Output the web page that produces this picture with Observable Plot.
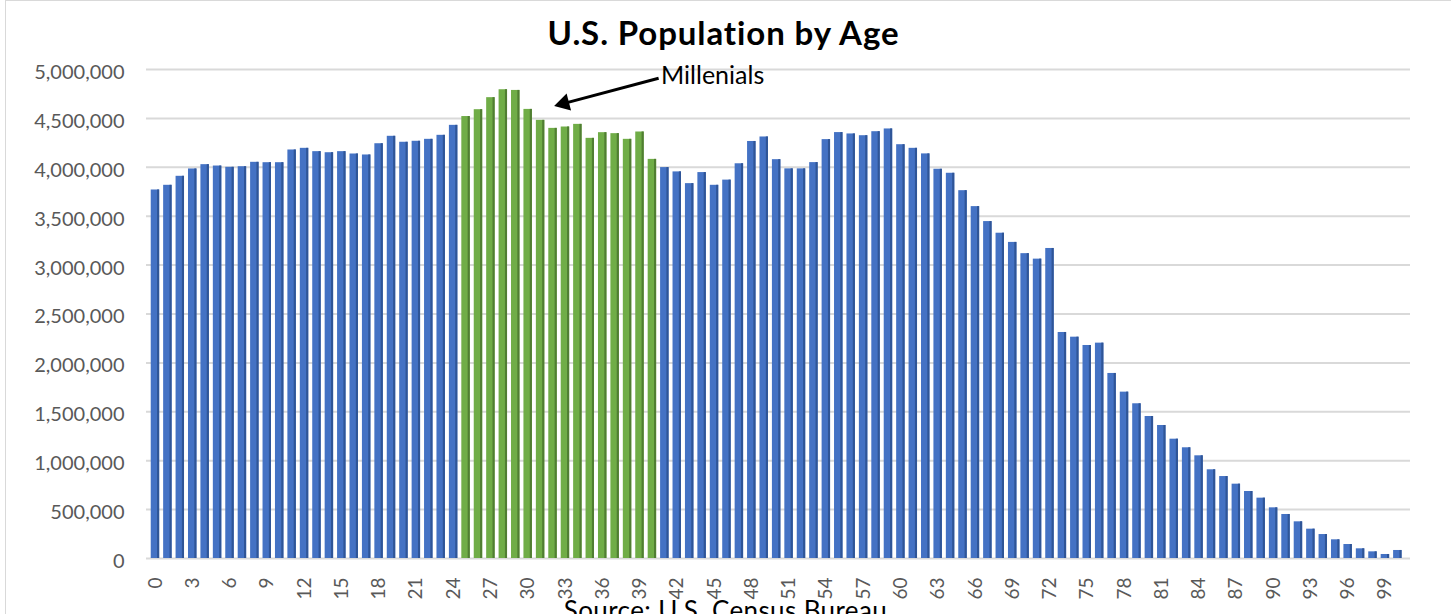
<!DOCTYPE html>
<html>
<head>
<meta charset="utf-8">
<script src="https://cdn.jsdelivr.net/npm/d3@7"></script>
<script src="https://cdn.jsdelivr.net/npm/@observablehq/plot@0.6"></script>
<style>
  html, body { margin: 0; padding: 0; background: #fff; }
  #wrap { position: relative; width: 1451px; height: 614px; overflow: hidden; background: #fff; font-family: Lato, "Open Sans", sans-serif; }
  #frame { position: absolute; left: 5px; top: 0px; width: 1460px; height: 640px; border: 1px solid #d9d9d9; box-sizing: border-box; }
  #title { position: absolute; left: 0; width: 1451px; top: 16px; line-height: 33px; text-align: center; font-weight: 700; font-size: 33px; letter-spacing: 0.9px; color: #000; padding-right: 4px; box-sizing: border-box; }
  #caption { position: absolute; left: 0; width: 1451px; top: 597px; line-height: 26px; text-align: center; font-size: 26px; letter-spacing: 0.4px; color: #000; }
  #chart { position: absolute; left: 0; top: 0; }
</style>
</head>
<body>
<div id="wrap">
  <div id="frame"></div>
  <div id="chart"></div>
  <div id="title">U.S. Population by Age</div>
  <div id="caption">Source: U.S. Census Bureau</div>
</div>
<script>
const ages = [0,1,2,3,4,5,6,7,8,9,10,11,12,13,14,15,16,17,18,19,20,21,22,23,24,25,26,27,28,29,30,31,32,33,34,35,36,37,38,39,40,41,42,43,44,45,46,47,48,49,50,51,52,53,54,55,56,57,58,59,60,61,62,63,64,65,66,67,68,69,70,71,72,73,74,75,76,77,78,79,80,81,82,83,84,85,86,87,88,89,90,91,92,93,94,95,96,97,98,99,100];
const population = [
  3768000,3816000,3908000,3983000,4027000,4013000,4000000,4006000,4051000,4047000,
  4047000,4177000,4194000,4160000,4149000,4160000,4136000,4126000,4241000,4317000,
  4256000,4266000,4286000,4327000,4429000,4519000,4589000,4712000,4793000,4786000,
  4592000,4480000,4398000,4412000,4439000,4296000,4354000,4344000,4286000,4361000,
  4081000,3997000,3953000,3833000,3946000,3816000,3869000,4036000,4264000,4310000,
  4078000,3984000,3984000,4048000,4283000,4355000,4341000,4323000,4364000,4392000,
  4231000,4194000,4137000,3980000,3939000,3761000,3598000,3445000,3326000,3232000,
  3117000,3061000,3170000,2311000,2263000,2178000,2202000,1892000,1701000,1582000,
  1452000,1360000,1220000,1132000,1050000,907000,838000,760000,685000,617000,
  518000,450000,375000,300000,245000,191000,143000,99000,68000,41000,
  82000
];
const millennialFirstAge = 25;
const millennialLastAge = 40;
const xTickLabels = [0,3,6,9,12,15,18,21,24,27,30,33,36,39,42,45,48,51,54,57,60,63,66,69,72,75,78,81,84,87,90,93,96,99];
const yTickValues = [0,500000,1000000,1500000,2000000,2500000,3000000,3500000,4000000,4500000,5000000];
const annotationText = ["Millenials"];
const annotationTextAt = [{age: 40.7, value: 4930000}];
const annotationLine = [{fromAge: 40.5, fromValue: 4911000, toAge: 32.9, toValue: 4654000}];
const annotationHead = [{age: 32.88, value: 4654000}];

const data = ages.map((a, i) => ({
  age: a,
  pop: population[i],
  gen: (a >= millennialFirstAge && a <= millennialLastAge) ? "millennial" : "other"
}));

const fillColor = d => d.gen === "millennial" ? "#70AD47" : "#4472C4";
const edgeColor = d => d.gen === "millennial" ? "#507E32" : "#2F5597";

const chart = Plot.plot({
  width: 1451,
  height: 614,
  marginLeft: 146,
  marginRight: 41,
  marginTop: 69,
  marginBottom: 56,
  style: { fontFamily: "Lato, 'Open Sans', sans-serif", color: "#595959", background: "transparent" },
  x: { type: "linear", domain: [-0.72, 101.02] },
  y: { domain: [0, 5000000] },
  marks: [
    Plot.gridY(yTickValues, { stroke: "#d9d9d9", strokeOpacity: 1, strokeWidth: 2 }),
    Plot.rectY(data, { x1: d => d.age - 0.34, x2: d => d.age + 0.34, y: "pop", fill: fillColor }),
    Plot.rectY(data, { x1: d => d.age + 0.17, x2: d => d.age + 0.34, y: "pop", fill: edgeColor }),
    Plot.axisY({ ticks: yTickValues, tickFormat: d3.format(","), tickSize: 0, tickPadding: 22, fontSize: 20, dy: 3, label: null }),
    Plot.axisX({ ticks: xTickLabels, tickFormat: d => String(d), tickRotate: -90, tickSize: 0, tickPadding: 19, fontSize: 19, label: null }),
    Plot.link(annotationLine, { x1: "fromAge", y1: "fromValue", x2: "toAge", y2: "toValue", stroke: "#000", strokeWidth: 3 }),
    Plot.dot(annotationHead, { x: "age", y: "value", symbol: "triangle", r: 6.5, fill: "#000", stroke: "none", rotate: -104.8 }),
    Plot.text(annotationTextAt, { x: "age", y: "value", text: () => annotationText[0], textAnchor: "start", fontSize: 25, fill: "#000", style: "letter-spacing:1px" })
  ]
});
document.getElementById("chart").appendChild(chart);
</script>
</body>
</html>
